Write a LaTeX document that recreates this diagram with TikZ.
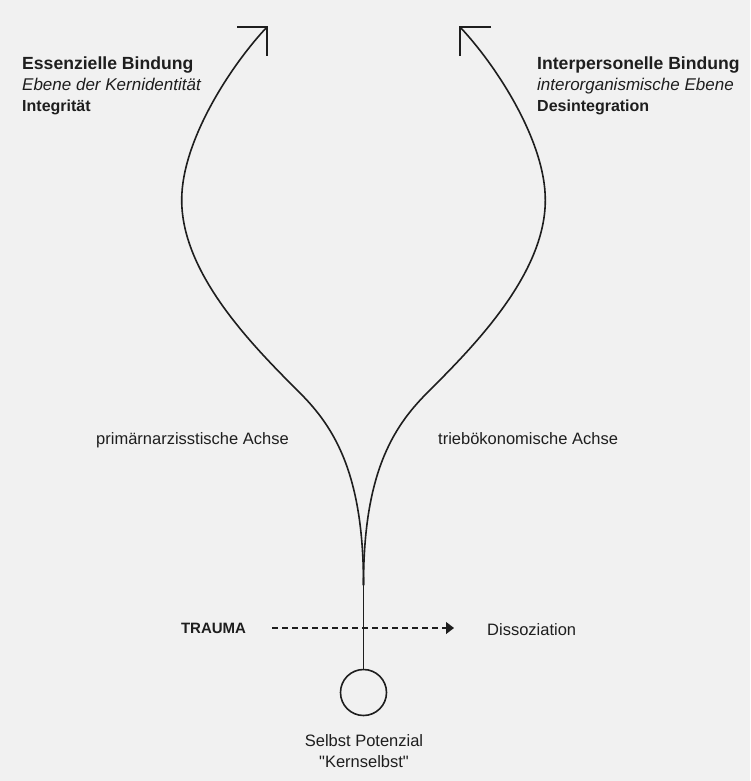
\documentclass[tikz,border=0pt]{standalone}
\usepackage{fontspec}
\setmainfont{Liberation Sans}[Ligatures=TeXOff]
\usetikzlibrary{arrows.meta}
\definecolor{bgc}{RGB}{241,241,241}
\definecolor{ink}{RGB}{30,30,30}
\begin{document}
\begin{tikzpicture}[x=1pt,y=-1pt,
  curve/.style={line width=1.6pt,line cap=round,draw=ink},
  headline/.style={line width=1.8pt,draw=ink},
  txt/.style={inner sep=0pt,text=ink,font=\fontsize{16.5}{20}\selectfont},
  heading/.style={inner sep=0pt,text=ink,anchor=base west,font=\fontsize{17.6}{21}\selectfont\bfseries},
  subitalic/.style={inner sep=0pt,text=ink,anchor=base west,font=\fontsize{17}{20}\selectfont\itshape},
  subbold/.style={inner sep=0pt,text=ink,anchor=base west,font=\fontsize{16}{20}\selectfont\bfseries},
  dashline/.style={line width=1.1pt,draw=ink,dash pattern=on 6pt off 4pt}]
\fill[bgc] (0,0) rectangle (750,781);
\useasboundingbox (0,0) rectangle (750,781);

% texts
\node[heading] (essL) at (22,70) {Essenzielle Bindung};
\node[subitalic] (ebeneL) at (22,91) {Ebene der Kernidentität};
\node[subbold] (integL) at (22,112) {Integrität};
\node[heading] (interR) at (537,70) {Interpersonelle Bindung};
\node[subitalic] (ebeneR) at (537,91) {interorganismische Ebene};
\node[subbold] (desR) at (537,112) {Desintegration};

\node[txt,anchor=base west] (achseL) at (96,444) {primärnarzisstische Achse};
\node[txt,anchor=base west] (achseR) at (438,444) {triebökonomische Achse};

\node[inner sep=0pt,text=ink,font=\fontsize{15}{18}\selectfont\bfseries] (trauma) at (213.5,628) {TRAUMA};
\node[txt,anchor=base west] (dissoz) at (487,635) {Dissoziation};

\node[draw=ink,circle,line width=1.6pt,minimum size=46pt,inner sep=0pt] (self) at (363.5,692.5) {};
\node[txt,anchor=base] (selbst) at (364,746) {Selbst Potenzial};
\node[txt,anchor=base] (kern) at (364,767) {"Kernselbst"};

% coordinates
\coordinate (merge) at (363.5,585);
\coordinate (tipL) at (267,27);
\coordinate (tipR) at (460,27);
\coordinate (dashS) at (272,628);
\coordinate (dashE) at (454,628);

% stem
\draw[curve] (self.north) -- (merge);

% left curve
\draw[curve] (merge) .. controls (363.5,475) and (335,428) .. (300,393)
  .. controls (255,348) and (181.7,275) .. (181.7,200)
  .. controls (181.7,140) and (232,64) .. (tipL);
% right curve
\draw[curve] (merge) .. controls (363.5,475) and (392,428) .. (427,393)
  .. controls (472,348) and (545.3,275) .. (545.3,200)
  .. controls (545.3,140) and (495,64) .. (tipR);

% open arrowheads
\draw[headline,line cap=butt] ([xshift=-30pt]tipL) -- ([xshift=0.9pt]tipL) ;
\draw[headline] (tipL) -- ([yshift=-29pt]tipL);
\draw[headline,line cap=butt] ([xshift=31pt]tipR) -- ([xshift=-0.9pt]tipR);
\draw[headline] (tipR) -- ([yshift=-29pt]tipR);

% dashed arrow
\draw[dashline,-{Triangle[length=8pt,width=12pt]}] (dashS) -- (dashE);
\end{tikzpicture}
\end{document}
